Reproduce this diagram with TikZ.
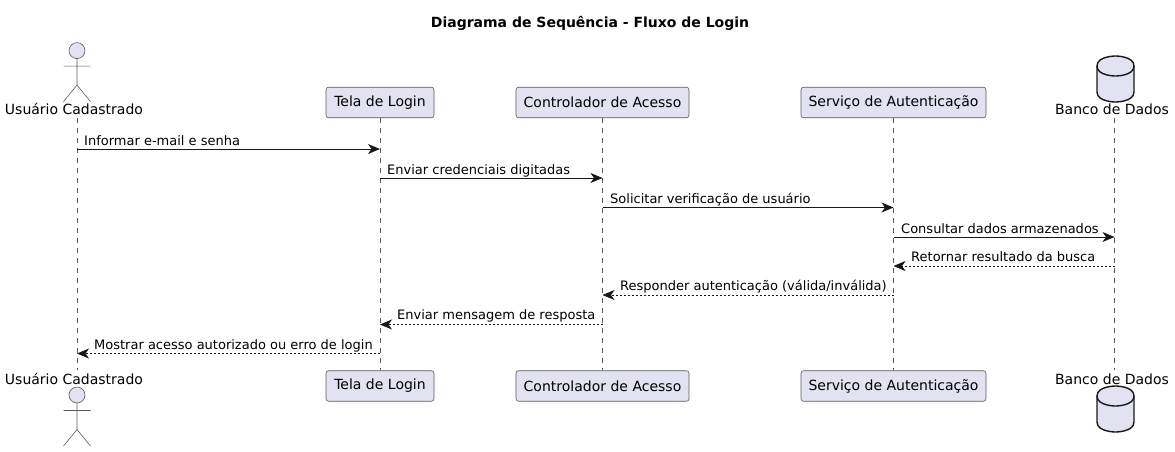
\documentclass[tikz,border=0pt]{standalone}
\usepackage{fontspec}
\setmainfont{DejaVu Sans}
\usetikzlibrary{arrows.meta}
\definecolor{boxfill}{HTML}{E2E2F0}
\definecolor{boxline}{HTML}{181818}
\definecolor{thinline}{HTML}{5A5A5A}
\tikzset{
  box/.style={draw=thinline,fill=boxfill,line width=0.6pt,rounded corners=2.5pt,minimum height=30.5pt,inner sep=0pt,font=\fontsize{14}{16}\selectfont},
  figname/.style={inner sep=0pt,anchor=base,font=\fontsize{14}{16}\selectfont,text=black},
  msgtext/.style={inner sep=0pt,anchor=base west,font=\fontsize{13}{15}\selectfont,text=black},
  lifeline/.style={draw=thinline,line width=0.6pt,dash pattern=on 5pt off 5pt},
  msg/.style={draw=boxline,line width=0.9pt,-{Stealth[length=12pt,width=10pt,inset=3.5pt]}},
  reply/.style={msg,dash pattern=on 2pt off 2pt},
  actorfig/.pic={
    \draw[draw=thinline,fill=boxfill,line width=0.6pt] (0,0) circle (8);
    \draw[draw=thinline,line width=0.6pt] (0,8) -- (0,34.5) (-13.5,15.5) -- (13.5,15.5) (-13.5,51) -- (0,34.5) -- (13.5,51);
  },
  dbfig/.pic={
    \draw[draw=boxline,fill=boxfill,line width=1.4pt] (-18.5,10) .. controls (-18.5,0) and (0,0) .. (0,0) .. controls (0,0) and (18.5,0) .. (18.5,10) -- (18.5,36) .. controls (18.5,46) and (0,46) .. (0,46) .. controls (0,46) and (-18.5,46) .. (-18.5,36) -- cycle;
    \draw[draw=boxline,line width=1.4pt] (-18.5,10) .. controls (-18.5,20) and (0,20) .. (0,20) .. controls (0,20) and (18.5,20) .. (18.5,10);
  }
}
\begin{document}
\begin{tikzpicture}[x=1pt,y=-1pt]
\useasboundingbox (0,0) rectangle (1175,451);
\node[inner sep=0pt,anchor=base,font=\fontsize{14}{16}\selectfont\bfseries] (title) at (590,27.5) {Diagrama de Sequência - Fluxo de Login};

% lifeline ends
\coordinate (usuario) at (77,118);
\coordinate (usuarioB) at (77,370);
\coordinate (banco) at (1114.5,118);
\coordinate (bancoB) at (1114.5,370);
\node[box,minimum width=108pt] (tela) at (380,102.5) {Tela de Login};
\node[box,minimum width=173pt] (ctrl) at (602.5,102.5) {Controlador de Acesso};
\node[box,minimum width=185pt] (serv) at (893.5,102.5) {Serviço de Autenticação};
\node[box,minimum width=108pt] (telaB) at (380,386) {Tela de Login};
\node[box,minimum width=173pt] (ctrlB) at (602.5,386) {Controlador de Acesso};
\node[box,minimum width=185pt] (servB) at (893.5,386) {Serviço de Autenticação};
\draw[lifeline] (usuario) -- (usuarioB);
\draw[lifeline] (tela.south) -- (telaB.north);
\draw[lifeline] (ctrl.south) -- (ctrlB.north);
\draw[lifeline] (serv.south) -- (servB.north);
\draw[lifeline] (banco) -- (bancoB);

\pic at (77,50.6) {actorfig};
\pic at (77,395) {actorfig};
\pic at (1115.5,56) {dbfig};
\pic at (1115.5,386) {dbfig};
\node[figname] (usuarioT) at (74,114.5) {Usuário Cadastrado};
\node[figname] (usuarioBT) at (74,384) {Usuário Cadastrado};
\node[figname] (bancoT) at (1112,114.5) {Banco de Dados};
\node[figname] (bancoBT) at (1112,384) {Banco de Dados};

% rows
\coordinate (r1) at (0,149);
\coordinate (r2) at (0,178);
\coordinate (r3) at (0,207.5);
\coordinate (r4) at (0,237);
\coordinate (r5) at (0,266);
\coordinate (r6) at (0,295);
\coordinate (r7) at (0,324.5);
\coordinate (r8) at (0,353.5);

\draw[msg] (usuario |- r1) -- (tela |- r1);
\draw[msg] (tela |- r2) -- (ctrl |- r2);
\draw[msg] (ctrl |- r3) -- (serv |- r3);
\draw[msg] (serv |- r4) -- (banco |- r4);
\draw[reply] (banco |- r5) -- (serv |- r5);
\draw[reply] (serv |- r6) -- (ctrl |- r6);
\draw[reply] (ctrl |- r7) -- (tela |- r7);
\draw[reply] (tela |- r8) -- (usuario |- r8);

\node[msgtext] (m1) at (84,145) {Informar e-mail e senha};
\node[msgtext] (m2) at (387,174.5) {Enviar credenciais digitadas};
\node[msgtext] (m3) at (610,203.5) {Solicitar verificação de usuário};
\node[msgtext] (m4) at (901,233) {Consultar dados armazenados};
\node[msgtext] (m5) at (911,261.5) {Retornar resultado da busca};
\node[msgtext] (m6) at (620,290.5) {Responder autenticação (válida/inválida)};
\node[msgtext] (m7) at (397,319.5) {Enviar mensagem de resposta};
\node[msgtext] (m8) at (94,349) {Mostrar acesso autorizado ou erro de login};
\end{tikzpicture}
\end{document}
